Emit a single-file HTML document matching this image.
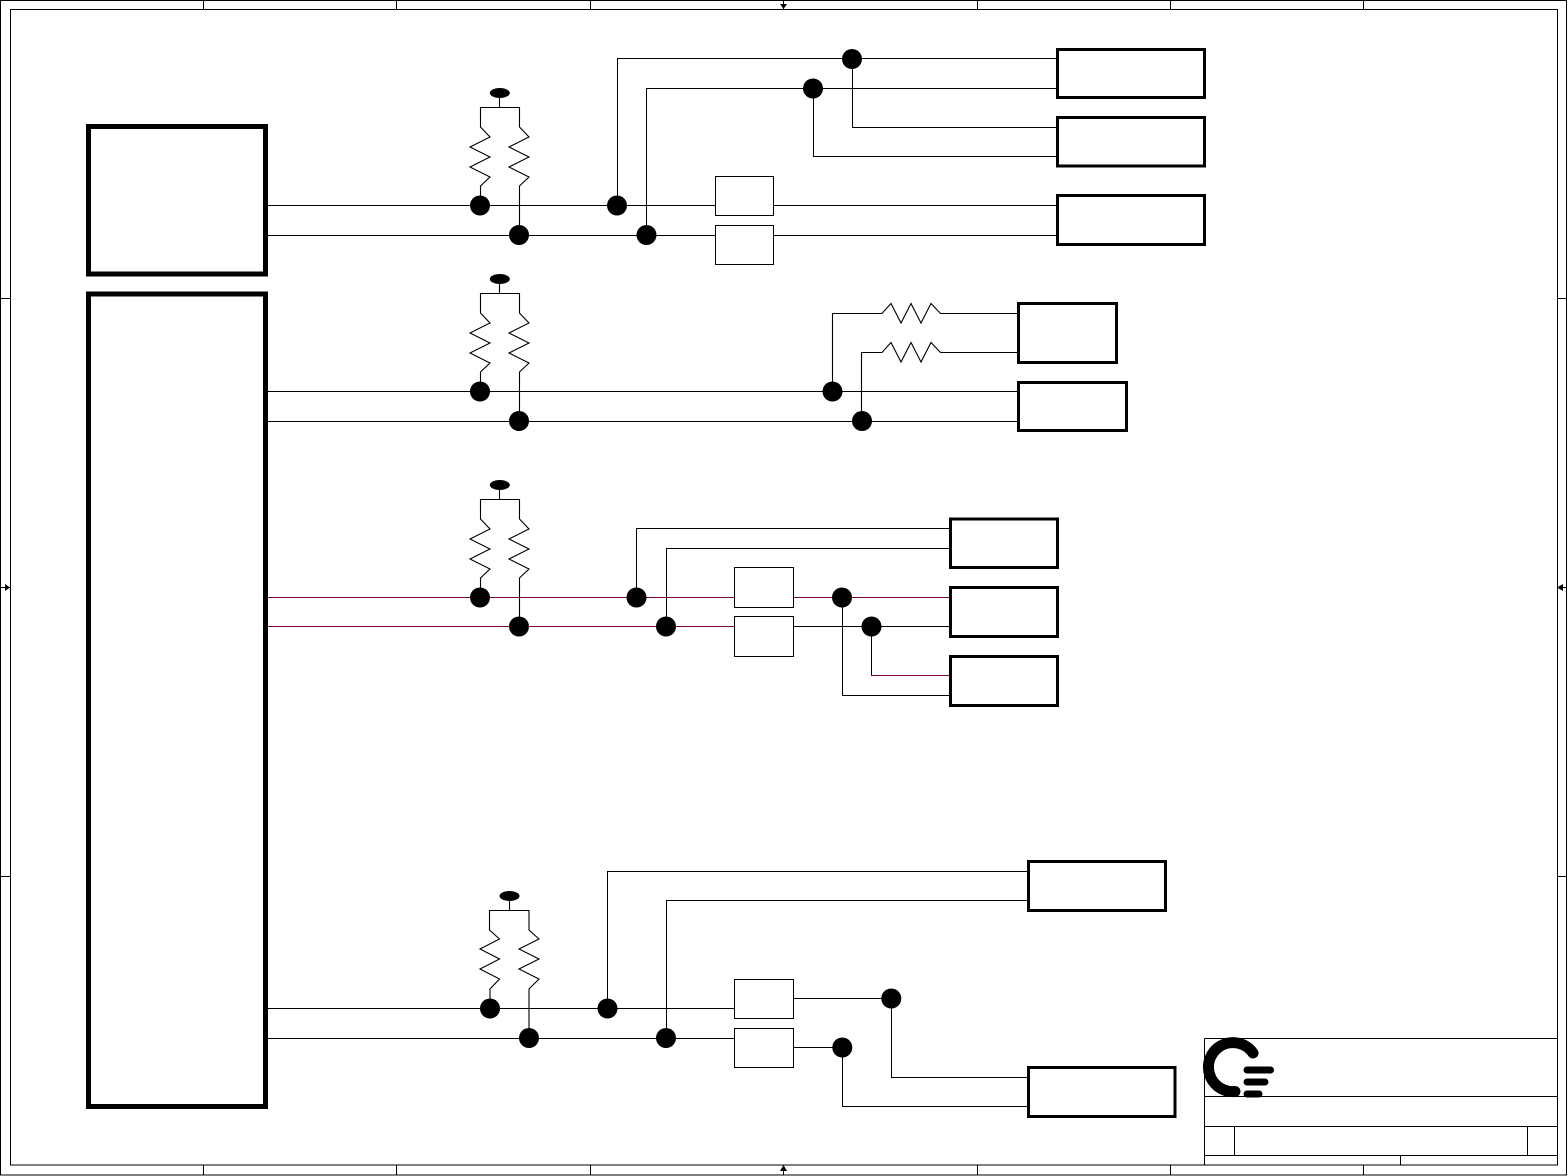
<!DOCTYPE html>
<html>
<head>
<meta charset="utf-8">
<title>Diagram</title>
<style>
html,body{margin:0;padding:0;background:#fff;width:1568px;height:1176px;overflow:hidden}
svg{display:block}
.l{fill:none;stroke:#000;stroke-width:1}
.m{fill:none;stroke:#800040;stroke-width:1}
.b{fill:#fff;stroke:#000;stroke-width:1}
.h{fill:#fff;stroke:#000;stroke-width:3}
.x{fill:#fff;stroke:#000;stroke-width:5}
.f{fill:none;stroke:#000;stroke-width:1.1}
</style>
</head>
<body>
<svg width="1568" height="1176" viewBox="0 0 1568 1176" xmlns="http://www.w3.org/2000/svg">
<!-- frame -->
<rect class="l" x="0.5" y="0.5" width="1566" height="1174.5"/>
<rect class="l" x="10.5" y="9.5" width="1547" height="1155.5"/>
<path class="l" d="M203.5 0V9M396.5 0V9M590.5 0V9M783.5 0V9M977.5 0V9M1170.5 0V9M1363.5 0V9"/>
<path class="l" d="M203.5 1165V1175M396.5 1165V1175M590.5 1165V1175M783.5 1165V1175M977.5 1165V1175M1170.5 1165V1175"/>
<path class="l" d="M0 298.5H10M0 587.5H10M0 876.5H10M1557 298.5H1567M1557 587.5H1567M1557 876.5H1567"/>
<path d="M780 4H787L783.5 9Z"/><path d="M780 1171H787L783.5 1165Z"/>
<path d="M5 584V591L10 587.5Z"/><path d="M1563 584V591L1557 587.5Z"/>
<!-- title block -->
<path class="l" d="M1204.5 1038.5H1557M1204.5 1038.5V1165M1204.5 1096.5H1557M1204.5 1126.5H1557M1204.5 1155.5H1557M1234.5 1126V1155M1527.5 1126V1155M1400.5 1155V1165M1363.5 1165V1175"/>
<!-- logo -->
<path d="M1253 1053A24.5 24.5 0 1 0 1235 1091.500" fill="none" stroke="#000" stroke-width="11" stroke-linecap="round"/>
<path d="M1247 1070H1270.500M1247 1082H1265M1247 1094H1259" fill="none" stroke="#000" stroke-width="7" stroke-linecap="round"/>

<!-- big blocks -->
<rect class="x" x="88.500" y="126.500" width="177" height="147.500"/>
<rect class="x" x="88.500" y="294" width="177" height="812.500"/>

<!-- group 1 wires -->
<path class="l" d="M268 205.500H715M774 205.500H1057M268 235.500H715M774 235.500H1057"/>
<path class="l" d="M617.500 205V58.500H1057M646.500 235V88.500H1057M852.500 59V127.500H1057M813.500 88V156.500H1057"/>
<path class="f" d="M480.500 205V186L490 177L470 167L490 157L470 147L490 137L480.500 127V107.500H519.500V127L529 137L509 147L529 157L509 167L529 177L519.500 186V235M499.500 93V107"/>
<ellipse cx="499.800" cy="93" rx="10" ry="5"/>
<rect class="b" x="715.500" y="176.500" width="58" height="39"/>
<rect class="b" x="715.500" y="225.500" width="58" height="39"/>
<g>
<circle cx="480" cy="205.500" r="10"/><circle cx="519" cy="235" r="10"/>
<circle cx="617" cy="205.500" r="10"/><circle cx="646.500" cy="235" r="10"/>
<circle cx="852" cy="59" r="10"/><circle cx="813" cy="88.500" r="10"/>
</g>
<rect class="h" x="1057.500" y="49.500" width="147" height="48"/>
<rect class="h" x="1057.500" y="117.500" width="147" height="48.500"/>
<rect class="h" x="1057.500" y="195.500" width="147" height="49"/>

<!-- group 2 wires -->
<path class="l" d="M268 391.500H1018M268 421.500H1018"/>
<path class="f" d="M480.500 391V372L490 363L470 353L490 343L470 333L490 323L480.500 313V293.500H519.500V313L529 323L509 333L529 343L509 353L529 363L519.500 372V421M499.500 279V293"/>
<ellipse cx="499.800" cy="279" rx="10" ry="5"/>
<path class="f" d="M832.500 391V313.500H882L891 303.500L901 323L911 303.500L921 323L931 303.500L940.500 313.500H1018"/>
<path class="f" d="M861.500 421V352.500H882L891 342.500L901 362L911 342.500L921 362L931 342.500L940.500 352.500H1018"/>
<circle cx="480" cy="391.500" r="10"/><circle cx="519" cy="421" r="10"/>
<circle cx="832.500" cy="391.500" r="10"/><circle cx="862" cy="421" r="10"/>
<rect class="h" x="1018.500" y="303.500" width="98" height="59"/>
<rect class="h" x="1018.500" y="382.500" width="108" height="48"/>

<!-- group 3 wires -->
<path class="m" d="M268 597.500H734M794 597.500H950M268 626.500H734M871 675.500H950"/>
<path class="l" d="M794 626.500H950M636.500 597V528.500H950M666.500 626V548.500H950M842.500 597V695.500H950M871.500 626V675"/>
<path class="f" d="M480.500 597V578L490 569L470 559L490 549L470 539L490 529L480.500 519V499.500H519.500V519L529 529L509 539L529 549L509 559L529 569L519.500 578V626M499.500 485V499"/>
<ellipse cx="499.800" cy="485" rx="10" ry="5"/>
<rect class="b" x="734.500" y="567.500" width="59" height="40"/>
<rect class="b" x="734.500" y="616.500" width="59" height="40"/>
<circle cx="480" cy="597.500" r="10"/><circle cx="519" cy="626.500" r="10"/>
<circle cx="636.500" cy="597.500" r="10"/><circle cx="666" cy="626.500" r="10"/>
<circle cx="842" cy="597.500" r="10"/><circle cx="871.500" cy="626.500" r="10"/>
<rect class="h" x="950.500" y="519" width="107" height="48.500"/>
<rect class="h" x="950.500" y="587.500" width="107" height="49"/>
<rect class="h" x="950.500" y="656.500" width="107" height="49"/>

<!-- group 4 wires -->
<path class="l" d="M268 1008.500H734M268 1038.500H734M794 998.500H891M794 1047.500H842"/>
<path class="l" d="M607.500 1008V871.500H1028M666.500 1038V900.500H1028M891.500 998V1077.500H1028M842.500 1047V1106.500H1028"/>
<path class="f" d="M490 1008V989L499.500 979L480 969L499.500 959L480 949L499.500 939L489.500 930V910.500H529V930L539 939L519 949L539 959L519 969L539 979L529 989V1038M509.500 896V910"/>
<ellipse cx="509.500" cy="896" rx="10" ry="5"/>
<rect class="b" x="734.500" y="979.500" width="59" height="39"/>
<rect class="b" x="734.500" y="1028.500" width="59" height="39"/>
<circle cx="490" cy="1008.500" r="10"/><circle cx="529" cy="1038" r="10"/>
<circle cx="607.500" cy="1008.500" r="10"/><circle cx="666" cy="1038" r="10"/>
<circle cx="891.300" cy="998.500" r="10"/><circle cx="842.300" cy="1047.500" r="10"/>
<rect class="h" x="1028.500" y="861.500" width="137" height="49"/>
<rect class="h" x="1028.500" y="1067.500" width="146.500" height="49"/>
</svg>
</body>
</html>
